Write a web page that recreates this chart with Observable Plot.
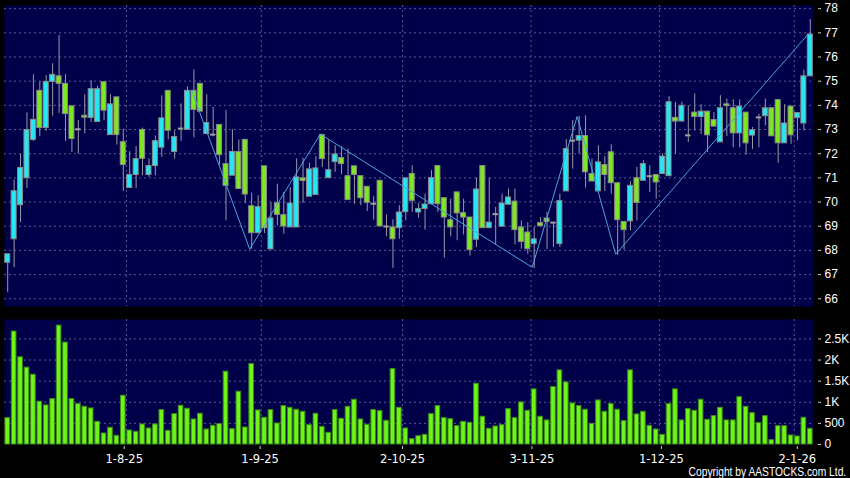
<!DOCTYPE html>
<html>
<head>
<meta charset="utf-8">
<script src="https://cdn.jsdelivr.net/npm/d3@7"></script>
<script src="https://cdn.jsdelivr.net/npm/@observablehq/plot@0.6"></script>
<style>
  html, body { margin: 0; padding: 0; background: #000; }
  #chart { position: relative; width: 850px; height: 478px; background: #000; overflow: hidden; }
  #price { position: absolute; left: 0; top: 0; }
  #volume { position: absolute; left: 0; top: 310px; }
  #copy { position: absolute; right: 4px; top: 466px; color: #fff; white-space: nowrap;
          font-family: "Liberation Sans", Arial, sans-serif; font-size: 12.5px; line-height: 12.5px;
          transform: scaleX(0.82); transform-origin: right top; }
</style>
</head>
<body>
<div id="chart">
  <div id="price"></div>
  <div id="volume"></div>
  <div id="copy">Copyright by AASTOCKS.com Ltd.</div>
</div>
<script>
// ---- Data (daily bars, 8 Jul 2025 – 7 Jan 2026) ----
const open = [
  67.49,68.46,69.87,70.99,72.57,74.60,73.06,74.97,75.20,74.89,73.96,73.01,73.57,73.48,73.31,74.96,72.77,74.33,72.48,70.58,
  71.12,72.98,71.12,71.49,72.25,74.60,72.07,73.04,72.99,74.60,74.89,72.81,72.79,73.19,71.57,71.09,72.07,72.57,69.83,68.71,
  71.48,68.04,69.95,69.46,68.95,68.95,70.98,70.22,70.29,72.77,70.99,71.65,71.82,71.07,71.48,71.07,70.63,69.93,70.88,68.99,
  68.95,68.92,69.58,71.16,69.57,69.71,69.91,71.49,70.16,69.25,70.40,69.54,69.36,68.44,71.49,68.92,69.50,68.98,69.89,70.02,
  68.95,68.74,68.26,69.13,69.32,69.15,68.26,70.44,72.54,72.54,72.73,71.16,70.44,71.53,72.06,70.78,69.18,69.20,70.99,70.88,
  71.07,71.12,71.16,71.07,73.48,73.33,72.76,73.70,73.52,73.74,73.39,72.47,74.04,73.88,72.84,73.70,72.75,73.50,73.55,73.88,
  74.22,72.43,73.95,73.47,73.25,75.20
];
const high = [
  67.84,70.91,71.99,73.69,75.26,74.98,75.23,75.72,76.89,75.27,73.96,73.37,74.44,75.01,74.79,74.96,74.44,74.33,73.02,72.08,
  72.29,73.06,71.78,72.73,74.39,74.60,72.95,74.06,74.76,75.47,74.89,74.44,73.92,73.19,73.78,72.99,72.57,72.60,70.37,70.26,
  71.48,69.98,70.74,70.40,70.60,71.78,71.81,71.60,71.88,72.81,72.57,72.33,72.29,72.19,71.48,71.07,70.63,70.22,70.88,69.46,
  69.27,69.85,70.98,71.50,69.94,70.33,71.30,71.49,70.16,70.12,70.40,70.12,69.36,70.99,71.49,70.99,69.78,70.33,70.54,70.54,
  69.22,69.15,68.95,69.36,69.57,69.15,70.33,72.58,73.37,73.54,73.57,71.78,72.33,71.88,72.37,70.78,69.18,70.84,71.43,71.71,
  71.50,71.12,71.99,74.36,74.13,74.13,73.98,74.47,74.02,73.74,73.70,74.40,74.26,74.23,74.23,73.70,73.08,73.63,74.26,73.88,
  74.22,74.02,73.95,73.68,75.46,77.55
];
const low = [
  66.25,67.29,69.15,70.56,72.50,72.72,72.93,73.55,73.67,72.51,72.06,71.99,72.82,73.30,73.31,73.37,72.77,72.36,70.44,70.58,
  70.56,71.09,71.02,71.09,71.85,72.58,71.78,72.51,72.99,72.65,73.74,72.81,72.70,71.53,69.22,71.09,70.54,69.94,68.05,68.71,
  68.70,68.04,69.02,68.67,68.95,68.95,69.94,70.22,70.29,71.43,70.99,71.23,71.13,70.08,69.91,69.85,69.61,69.25,68.99,68.57,
  67.26,68.46,69.22,69.57,69.33,68.84,69.91,69.57,67.68,68.56,68.40,68.64,67.77,68.12,68.92,68.92,68.23,68.98,69.89,68.23,
  68.05,67.84,67.25,69.00,68.03,68.12,68.12,70.44,71.36,71.99,70.58,70.85,70.44,70.44,70.33,67.80,68.01,68.81,69.22,70.88,
  70.40,70.12,71.16,71.07,71.99,73.33,72.47,72.94,72.80,72.04,73.12,72.47,72.71,72.25,72.25,71.93,72.18,72.25,73.15,72.72,
  71.60,72.43,72.39,72.53,72.94,75.20
];
const close = [
  67.84,70.45,71.41,72.98,73.40,73.06,74.97,75.26,74.89,73.64,72.61,73.01,73.49,74.67,74.67,73.78,74.04,72.77,71.53,71.12,
  71.78,71.79,71.49,72.52,73.46,72.95,72.69,73.04,74.60,73.81,73.74,73.27,72.79,71.94,70.67,72.07,70.54,70.31,68.71,69.79,
  68.92,69.32,69.47,68.99,69.94,71.02,70.87,71.35,71.39,71.78,71.32,71.97,71.57,70.08,71.12,70.16,69.97,69.93,68.99,68.99,
  68.46,69.57,70.98,70.05,69.71,69.90,70.99,69.91,69.36,68.95,69.53,69.36,68.01,70.52,68.92,69.15,69.50,69.94,70.19,68.84,
  68.35,68.05,68.46,69.00,69.18,69.15,70.04,72.19,72.54,72.73,71.23,70.85,71.64,71.12,70.78,69.25,68.84,70.67,69.96,71.57,
  71.07,70.81,71.88,74.13,73.33,73.98,72.76,73.52,73.74,72.76,73.12,73.88,73.97,72.84,73.95,72.43,72.97,73.50,73.88,72.72,
  72.43,73.25,72.76,73.68,75.20,76.93
];
const volume = [
  625,2674,2065,1820,1653,1013,926,1076,2816,2413,1076,957,894,854,538,261,396,206,1155,332,
  300,475,380,475,815,324,720,918,847,593,728,356,443,483,1725,364,1250,403,1907,807,
  633,815,498,910,870,823,775,459,728,419,277,815,609,894,1060,593,467,815,791,562,
  1788,870,380,127,198,229,720,910,625,600,435,538,514,1440,657,372,427,459,839,625,
  997,799,1305,657,570,1361,1756,1471,973,910,823,490,1044,775,957,823,554,1756,712,775,
  443,356,229,957,1305,570,839,799,1060,585,672,870,570,570,1123,894,744,506,672,103,
  435,435,214,190,633,372
];
// ZigZag indicator turning points: bar index and value
const zigzagBar = [29, 38, 49, 82, 89, 95, 125];
const zigzagVal = [74.60, 68.05, 72.81, 67.30, 73.54, 67.84, 76.95];
// Date axis: first trading day of each month (bar index) and its label
const monthBar = [18, 39, 61, 81, 101, 122];
const monthLabel = ["1-8-25", "1-9-25", "2-10-25", "3-11-25", "1-12-25", "2-1-26"];
const priceTicks = [66, 67, 68, 69, 70, 71, 72, 73, 74, 75, 76, 77, 78];
const volumeTicks = [0, 500, 1000, 1500, 2000, 2500];

// ---- Styles ----
const navy = "#00004a";
const gridColor = "#5a5a8e";
const upColor = "#25e6f2";
const downColor = "#7ee622";
const bodyStroke = "#8a8a8a";
const wickColor = "#9898a4";
const volFill = "#6ef418";
const volStroke = "#3c8a16";
const zigColor = "#4aa4de";

const N = open.length;
const bars = open.map((o, i) => ({i, o, h: high[i], l: low[i], c: close[i], v: volume[i]}));
const dojis = bars.filter(d => d.o === d.c);
const bodies = bars.filter(d => d.o !== d.c);
const zigzag = zigzagBar.map((i, k) => ({i, v: zigzagVal[k]}));
const monthGrid = monthBar.map(i => i + 0.5);
// the source chart spaces its date labels over N-1 intervals
const labelPos = monthBar.map(i => i * N / (N - 1));
const labelOf = new Map(labelPos.map((p, k) => [p, monthLabel[k]]));

const price = Plot.plot({
  width: 850, height: 310,
  marginLeft: 4, marginRight: 37, marginTop: 5, marginBottom: 4,
  style: {background: "transparent", color: "#fff", fontFamily: "Liberation Sans, Arial, sans-serif", fontSize: "12px"},
  color: {type: "identity"},
  x: {domain: [-0.5, N - 0.5], axis: null},
  y: {domain: [65.68, 78.13], axis: null},
  marks: [
    Plot.frame({fill: navy, stroke: "none"}),
    Plot.gridY(priceTicks, {stroke: gridColor, strokeOpacity: 1, strokeDasharray: "2,3"}),
    Plot.gridX(monthGrid, {stroke: gridColor, strokeOpacity: 1, strokeDasharray: "2,3"}),
    Plot.axisY(priceTicks, {anchor: "right", label: null, tickSize: 3, tickPadding: 4, dx: 4, stroke: "#ccc", fill: "#fff"}),
    Plot.ruleX(bars, {x: "i", y1: "l", y2: "h", stroke: wickColor, strokeWidth: 1}),
    Plot.rect(bodies, {
      x1: d => d.i - 0.39, x2: d => d.i + 0.39, y1: "o", y2: "c",
      fill: d => d.c > d.o ? upColor : downColor, stroke: bodyStroke, strokeWidth: 1
    }),
    Plot.ruleY(dojis, {x1: d => d.i - 0.42, x2: d => d.i + 0.42, y: "o", stroke: "#a0a0a0", strokeWidth: 2}),
    Plot.line(zigzag, {x: "i", y: "v", stroke: zigColor, strokeWidth: 1, dx: -2})
  ]
});
document.getElementById("price").append(price);

const vol = Plot.plot({
  width: 850, height: 168,
  marginLeft: 4, marginRight: 37, marginTop: 9, marginBottom: 34,
  style: {background: "transparent", color: "#fff", fontFamily: "Liberation Sans, Arial, sans-serif", fontSize: "12px"},
  x: {domain: [-0.5, N - 0.5], axis: null, label: null},
  y: {domain: [0, 2960], axis: null, label: null},
  marks: [
    Plot.frame({fill: navy, stroke: "none"}),
    Plot.gridY(volumeTicks.filter(t => t > 0), {stroke: gridColor, strokeOpacity: 1, strokeDasharray: "2,3"}),
    Plot.gridX(monthGrid, {stroke: gridColor, strokeOpacity: 1, strokeDasharray: "2,3"}),
    Plot.rect(bars, {x1: d => d.i - 0.36, x2: d => d.i + 0.36, y1: 0, y2: "v", fill: volFill, stroke: volStroke, strokeWidth: 1}),
    Plot.axisY(volumeTicks, {
      anchor: "right", label: null, tickSize: 3, tickPadding: 4, dx: 4, stroke: "#ccc", fill: "#fff",
      tickFormat: d => d >= 1000 ? (d / 1000) + "K" : String(d)
    }),
    Plot.axisX(labelPos, {
      anchor: "bottom", label: null, tickSize: 3, tickPadding: 5, dy: 2, stroke: "#ccc", fill: "#fff",
      fontFamily: "DejaVu Sans", fontSize: 11.5,
      tickFormat: d => labelOf.get(d)
    })
  ]
});
document.getElementById("volume").append(vol);
</script>
</body>
</html>
